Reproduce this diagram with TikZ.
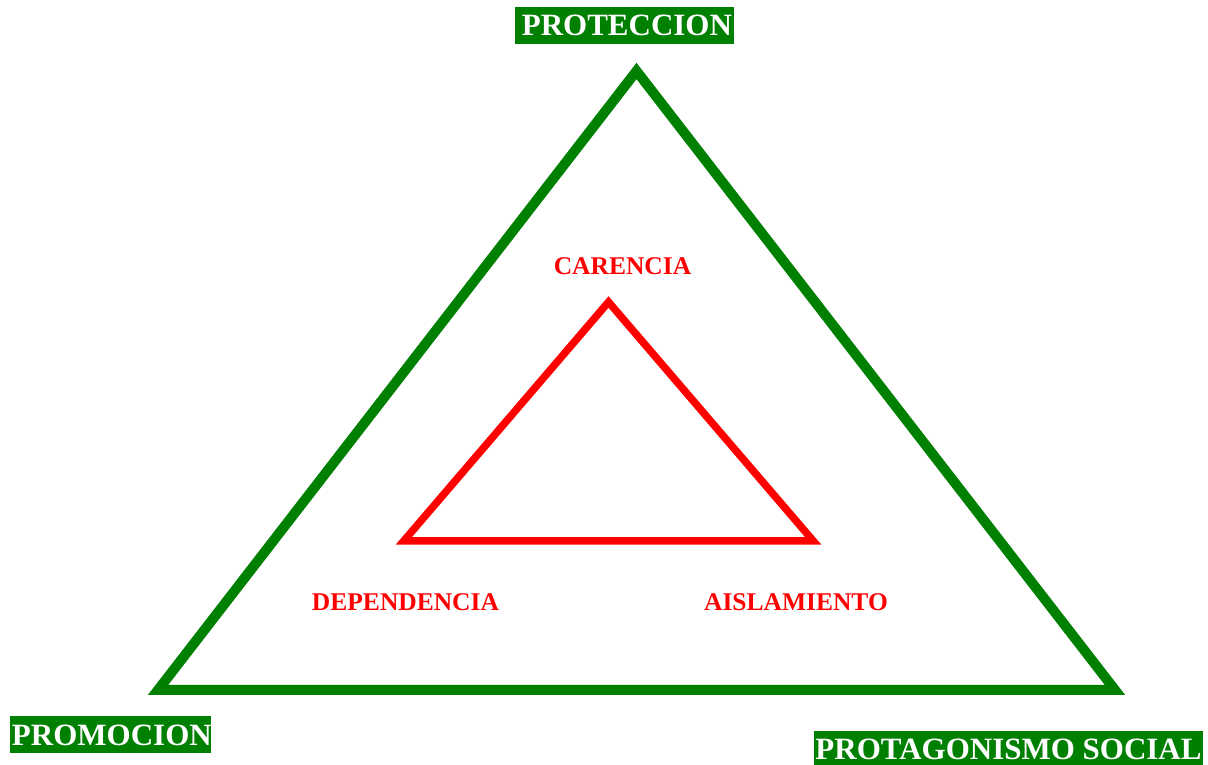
\documentclass[tikz,border=0pt]{standalone}
\usepackage{fontspec}
\setmainfont{Liberation Serif}
\definecolor{tgreen}{HTML}{008000}
\definecolor{tred}{HTML}{FF0000}
\begin{document}
\begin{tikzpicture}[x=1pt,y=1pt,
  outertri/.style={draw=tgreen,line width=10pt,line join=miter},
  innertri/.style={draw=tred,line width=7.5pt,line join=miter},
  greenlabel/.style={fill=tgreen,text=white,font=\bfseries\fontsize{31}{31}\selectfont,
    inner xsep=2pt,inner ysep=0pt,minimum height=37pt,align=right,anchor=center},
  redlabel/.style={text=tred,font=\bfseries\fontsize{25.5}{25.5}\selectfont,inner sep=0pt,anchor=base}]
\useasboundingbox (0,0) rectangle (1208,765);
% outer triangle
\coordinate (gA) at (636.5,694);
\coordinate (gL) at (158,75);
\coordinate (gR) at (1115,75);
\draw[outertri] (gA) -- (gL) -- (gR) -- cycle;
% inner triangle
\coordinate (rA) at (608.5,463);
\coordinate (rL) at (403.7,224);
\coordinate (rR) at (813.3,224);
\draw[innertri] (rA) -- (rL) -- (rR) -- cycle;
% green labels
\node[greenlabel,text width=215pt] (prot) at (624.5,739.5) {PROTECCION};
\node[greenlabel,text width=197pt] (prom) at (110.5,30) {PROMOCION};
\node[greenlabel,inner xsep=0pt,minimum width=389pt] (protag) at (1008.5,15.5) {PROTAGONISMO SOCIAL};
% red labels
\node[redlabel] (car) at (622.5,490) {CARENCIA};
\node[redlabel] (dep) at (405.5,154) {DEPENDENCIA};
\node[redlabel] (ais) at (796,154) {AISLAMIENTO};
\end{tikzpicture}
\end{document}
